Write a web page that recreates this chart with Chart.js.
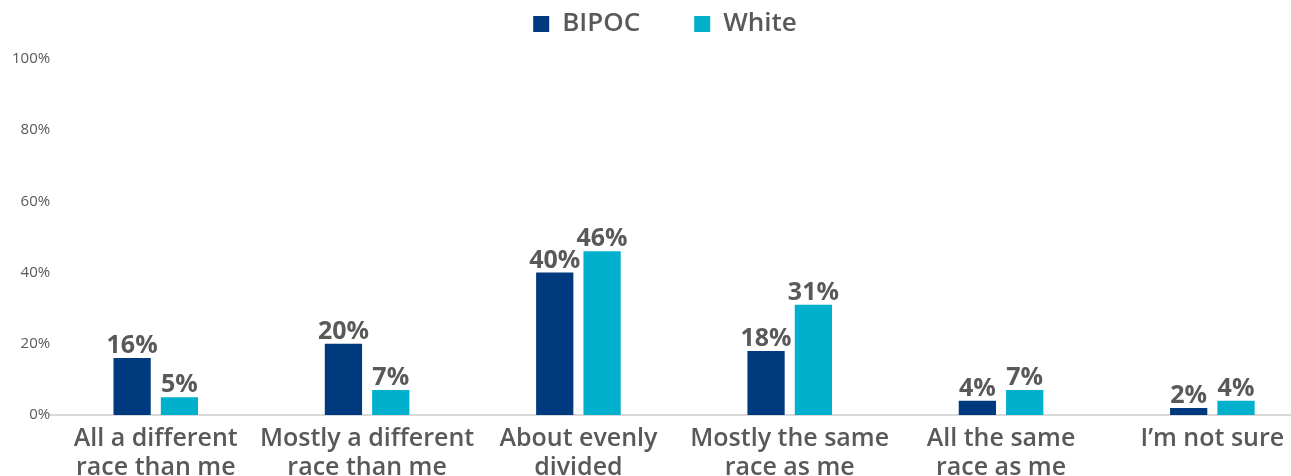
<!DOCTYPE html>
<html>
<head>
<meta charset="utf-8">
<script src="https://cdn.jsdelivr.net/npm/chart.js@4"></script>
<style>
  html, body { margin: 0; padding: 0; background: #fff; overflow: hidden; }
  #wrap { position: relative; width: 1320px; height: 492px; }
</style>
</head>
<body>
<div id="wrap"><canvas id="c"></canvas></div>
<script>
const categories = [
  ["All a different", "race than me"],
  ["Mostly a different", "race than me"],
  ["About evenly", "divided"],
  ["Mostly the same", "race as me"],
  ["All the same", "race as me"],
  ["I\u2019m not sure"]
];
const seriesNames = ["BIPOC", "White"];
const bipocValues = [16, 20, 40, 18, 4, 2];
const whiteValues = [5, 7, 46, 31, 7, 4];
const yTicks = [0, 20, 40, 60, 80, 100];

const FONT = "'Open Sans', 'Noto Sans', sans-serif";
const GRAY = '#595959';

const dataLabels = {
  id: 'dataLabels',
  afterDatasetsDraw(chart) {
    const ctx = chart.ctx;
    ctx.save();
    ctx.font = "bold 25px " + FONT;
    ctx.fillStyle = GRAY;
    ctx.textAlign = 'center';
    ctx.textBaseline = 'alphabetic';
    chart.data.datasets.forEach((ds, di) => {
      const meta = chart.getDatasetMeta(di);
      meta.data.forEach((bar, i) => {
        ctx.fillText(ds.data[i] + '%', bar.x, bar.y - 5);
      });
    });
    ctx.restore();
  }
};

// small adjustments of the built-in legend: extra space below it, and a slight shift up
const legendTweak = {
  id: 'legendTweak',
  afterInit(chart) {
    const lg = chart.legend;
    if (!lg) return;
    const origFit = lg.fit.bind(lg);
    lg.fit = function () { origFit(); this.height += 7; };
    const origDraw = lg.draw.bind(lg);
    lg.draw = function () {
      const ctx = chart.ctx;
      ctx.save();
      ctx.translate(0, -5);
      origDraw();
      ctx.restore();
    };
  }
};

new Chart(document.getElementById('c'), {
  type: 'bar',
  data: {
    labels: categories,
    datasets: [
      { label: seriesNames[0], data: bipocValues, backgroundColor: '#003A7E', borderWidth: 0 },
      { label: seriesNames[1], data: whiteValues, backgroundColor: '#00B0CC', borderWidth: 0 }
    ]
  },
  plugins: [dataLabels, legendTweak],
  options: {
    responsive: true,
    maintainAspectRatio: false,
    animation: false,
    devicePixelRatio: 1,
    layout: { padding: { left: 12, right: 2, top: -38, bottom: 0 } },
    datasets: { bar: { categoryPercentage: 0.448, barPercentage: 0.787 } },
    plugins: {
      legend: {
        position: 'top',
        align: 'center',
        labels: {
          font: { family: FONT, size: 26, weight: '600' },
          color: GRAY,
          boxWidth: 16,
          boxHeight: 16,
          padding: 54
        }
      },
      tooltip: { enabled: false }
    },
    scales: {
      x: {
        grid: { display: false, drawTicks: false },
        border: { display: true, color: '#D9D9D9', width: 2 },
        ticks: {
          font: { family: FONT, size: 25, weight: '600', lineHeight: 1.14 },
          color: GRAY,
          padding: 10,
          maxRotation: 0,
          autoSkip: false
        }
      },
      y: {
        min: 0,
        max: 100,
        afterBuildTicks(scale) { scale.ticks = yTicks.map(v => ({ value: v })); },
        grid: { display: false, drawTicks: false },
        border: { display: false },
        ticks: {
          font: { family: FONT, size: 15 },
          color: GRAY,
          padding: 0,
          callback: v => v + '%'
        }
      }
    }
  }
});
</script>
</body>
</html>
